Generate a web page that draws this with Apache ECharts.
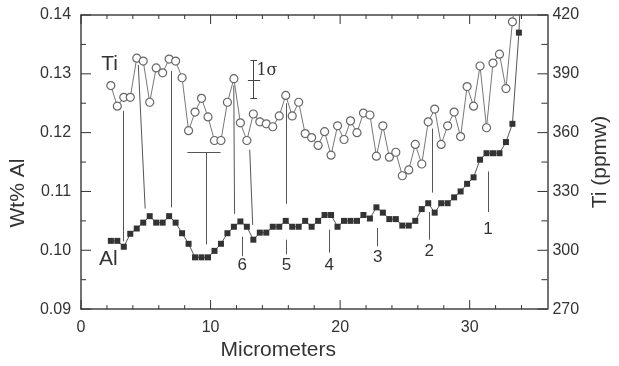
<!DOCTYPE html>
<html>
<head>
<meta charset="utf-8">
<script src="https://cdn.jsdelivr.net/npm/echarts@6/dist/echarts.min.js"></script>
<style>
    html, body { margin: 0; padding: 0; background: #fff; }
    #chart { width: 619px; height: 366px; }
</style>
</head>
<body>
<div id="chart"></div>
<script>

// profile positions (micrometers)
const distance = [
    2.3, 2.8, 3.3, 3.8, 4.3, 4.8, 5.3, 5.8, 6.3, 6.8,
    7.3, 7.8, 8.3, 8.8, 9.3, 9.8, 10.3, 10.8, 11.3, 11.8,
    12.3, 12.8, 13.3, 13.8, 14.3, 14.8, 15.3, 15.8, 16.3, 16.8,
    17.3, 17.8, 18.3, 18.8, 19.3, 19.8, 20.3, 20.8, 21.3, 21.8,
    22.3, 22.8, 23.3, 23.8, 24.3, 24.8, 25.3, 25.8, 26.3, 26.8,
    27.3, 27.8, 28.3, 28.8, 29.3, 29.8, 30.3, 30.8, 31.3, 31.8,
    32.3, 32.8, 33.3, 33.8, 34.3
];

// Ti (ppmw), right axis
const tiPpmw = [
    384, 373.5, 378, 378, 398, 396.5, 375.5, 393, 390.5, 397.5,
    396.5, 388, 361, 370.5, 377.5, 368, 356, 356, 375.5, 387.5,
    365, 356, 369.5, 365.5, 364.5, 363, 368.5, 379, 368.5, 375.5,
    359.5, 357.5, 353.5, 360.5, 348.5, 363.5, 356.5, 366, 360, 370,
    369, 348, 363.5, 347.5, 350, 338, 341, 354, 344, 365.5,
    372, 354, 363.5, 370.5, 358, 383.5, 373.5, 394, 362.5, 395.5,
    400, 382.5, 416.5, 440
];

// Al (wt%), left axis
const alWt = [
    0.1016, 0.1016, 0.1006, 0.1028, 0.1037, 0.1047, 0.1058, 0.1047, 0.1047, 0.1058,
    0.1047, 0.1029, 0.1011, 0.0988, 0.0988, 0.0988, 0.0999, 0.1011, 0.1029, 0.1040,
    0.1049, 0.1040, 0.1018, 0.1030, 0.1030, 0.1040, 0.1040, 0.1050, 0.1040, 0.1040,
    0.1050, 0.1040, 0.1050, 0.1060, 0.1060, 0.1040, 0.1050, 0.1050, 0.1050, 0.1060,
    0.1054, 0.1073, 0.1064, 0.1053, 0.1053, 0.1042, 0.1042, 0.1050, 0.1070, 0.1080,
    0.1064, 0.1080, 0.1080, 0.1090, 0.1100, 0.1113, 0.1124, 0.1154, 0.1165, 0.1165,
    0.1165, 0.1184, 0.1215, 0.1370, 0.1600
];

// tick positions
const xTicks = [0, 10, 20, 30];
const xMinorTicks = [2, 4, 6, 8, 12, 14, 16, 18, 22, 24, 26, 28, 32, 34];
const alTicks = [0.09, 0.10, 0.11, 0.12, 0.13, 0.14];
const alMinorTicks = [0.095, 0.105, 0.115, 0.125, 0.135];
const tiTicks = [270, 300, 330, 360, 390, 420];
const tiMinorTicks = [285, 315, 345, 375, 405];

// guide lines Ti -> Al  [x1, al1, x2, al2]
const guideLines = [
    [3.28, 0.1237, 3.28, 0.1015],
    [4.42, 0.1315, 4.95, 0.1071],
    [6.97, 0.1305, 6.97, 0.1073],
    [8.21, 0.1167, 10.77, 0.1167],
    [9.69, 0.1167, 9.69, 0.1010],
    [11.79, 0.1280, 11.85, 0.1062],
    [13.02, 0.1171, 13.25, 0.1043],
    [15.85, 0.1250, 15.85, 0.1079],
    [27.13, 0.1207, 27.13, 0.1098]
];

// numbered peaks
const peakNames = ['1', '2', '3', '4', '5', '6'];
const peakX = [31.41, 26.87, 22.9, 19.15, 15.85, 12.44];
const peakTickTop = [0.1134, 0.1065, 0.1038, 0.1035, 0.1018, 0.1023];
const peakTickBottom = [0.1065, 0.1018, 0.1007, 0.0996, 0.0993, 0.0990];
const peakLabelY = [0.1036, 0.0999, 0.0988, 0.0974, 0.0974, 0.0974];

// 1 sigma error bar on Ti scale
const sigmaX = 13.33;
const sigmaTi = [377.6, 386.8, 396.7];

const ink = '#333';
const X_MIN = 0, X_MAX = 36;

function segment(x1, y1, x2, y2) {
    return [{ coord: [x1, y1] }, { coord: [x2, y2] }];
}

function textPoint(name, x, y, size, family) {
    return {
        name,
        coord: [x, y],
        label: { fontSize: size, fontFamily: family || 'Liberation Sans' }
    };
}

function tickLine(x1, y1, x2, y2) {
    return { type: 'line', shape: { x1, y1, x2, y2 }, style: { stroke: ink, lineWidth: 1 } };
}

// frame ticks, placed through the axes' own scales (inward, like the original plot)
function tickSeries(yAxisIndex, data, render) {
    return {
        type: 'custom',
        xAxisIndex: 0, yAxisIndex,
        silent: true, clip: false, z: 5,
        data,
        renderItem: (params, api) => ({ type: 'group', children: render(api) })
    };
}

const xTickSeries = tickSeries(0,
    xTicks.map(v => [v, 9]).concat(xMinorTicks.map(v => [v, 4])),
    api => {
        const x = api.value(0), len = api.value(1);
        const b = api.coord([x, alTicks[0]]);
        const t = api.coord([x, alTicks[alTicks.length - 1]]);
        return [tickLine(b[0], b[1], b[0], b[1] - len), tickLine(t[0], t[1], t[0], t[1] + len)];
    });

const alTickSeries = tickSeries(0,
    alTicks.map(v => [10, v]).concat(alMinorTicks.map(v => [5, v])),
    api => {
        const len = api.value(0);
        const p = api.coord([X_MIN, api.value(1)]);
        return [tickLine(p[0], p[1], p[0] + len, p[1])];
    });

const tiTickSeries = tickSeries(1,
    tiTicks.map(v => [10, v]).concat(tiMinorTicks.map(v => [6, v])),
    api => {
        const len = api.value(0);
        const p = api.coord([X_MAX, api.value(1)]);
        return [tickLine(p[0], p[1], p[0] - len, p[1])];
    });

const axisLineStyle = { show: true, onZero: false, lineStyle: { color: '#444', width: 1.5 } };

const chart = echarts.init(document.getElementById('chart'));

const option = {
    animation: false,
    backgroundColor: '#fff',
    grid: { left: 80, right: 71, top: 15, bottom: 50 },
    xAxis: [
        {
            type: 'value', min: X_MIN, max: X_MAX, interval: 10, position: 'bottom',
            splitLine: { show: false },
            axisLine: axisLineStyle,
            axisTick: { show: false },
            axisLabel: {
                show: true, fontSize: 16, color: ink, margin: 10, fontFamily: 'Liberation Sans',
                showMaxLabel: false,
                formatter: v => xTicks.includes(v) ? String(v) : ''
            },
            name: 'Micrometers', nameLocation: 'middle', nameGap: 24,
            nameTextStyle: { fontSize: 21, color: ink, fontFamily: 'Liberation Sans', padding: [0, 72, 0, 0] }
        },
        {
            type: 'value', min: X_MIN, max: X_MAX, interval: 10, position: 'top',
            splitLine: { show: false },
            axisLine: axisLineStyle,
            axisTick: { show: false },
            axisLabel: { show: false }
        }
    ],
    yAxis: [
        {
            type: 'value', position: 'left',
            min: alTicks[0], max: alTicks[alTicks.length - 1], interval: 0.01,
            splitLine: { show: false },
            axisLine: axisLineStyle,
            axisTick: { show: false },
            axisLabel: {
                fontSize: 16, color: ink, margin: 10, fontFamily: 'Liberation Sans',
                formatter: v => v.toFixed(2)
            },
            name: 'Wt% Al', nameLocation: 'middle', nameGap: 46, nameRotate: 90,
            nameTextStyle: { fontSize: 21, color: ink, fontFamily: 'Liberation Sans', padding: [0, 62, 0, 0] }
        },
        {
            type: 'value', position: 'right',
            min: tiTicks[0], max: tiTicks[tiTicks.length - 1], interval: 30,
            splitLine: { show: false },
            axisLine: axisLineStyle,
            axisTick: { show: false },
            axisLabel: { fontSize: 16, color: ink, margin: 5, fontFamily: 'Liberation Sans' },
            name: 'Ti (ppmw)', nameLocation: 'middle', nameGap: 37, nameRotate: 90,
            nameTextStyle: { fontSize: 21, color: ink, fontFamily: 'Liberation Sans' }
        }
    ],
    series: [
        {
            name: 'Al',
            type: 'line',
            xAxisIndex: 0, yAxisIndex: 0,
            data: alWt.map((v, i) => [distance[i], v]),
            symbol: 'rect', symbolSize: 6, showAllSymbol: true,
            itemStyle: { color: '#333' },
            lineStyle: { color: '#555', width: 1 },
            clip: true,
            markLine: {
                silent: true, symbol: ['none', 'none'], label: { show: false },
                lineStyle: { color: '#555', width: 1, type: 'solid' },
                data: guideLines.map(g => segment(g[0], g[1], g[2], g[3]))
                    .concat(peakX.map((x, i) => segment(x, peakTickTop[i], x, peakTickBottom[i])))
            },
            markPoint: {
                silent: true, symbol: 'circle', symbolSize: 1,
                itemStyle: { color: 'rgba(0,0,0,0)' },
                label: { show: true, position: 'inside', color: ink, formatter: p => p.name },
                data: peakNames.map((n, i) => textPoint(n, peakX[i], peakLabelY[i], 17))
                    .concat([textPoint('Al', 2.1, 0.0985, 21)])
            }
        },
        {
            name: 'Ti',
            type: 'line',
            xAxisIndex: 0, yAxisIndex: 1,
            data: tiPpmw.map((v, i) => [distance[i], v]),
            symbol: 'circle', symbolSize: 8, showAllSymbol: true,
            itemStyle: { color: '#fff', borderColor: '#666', borderWidth: 1.2 },
            lineStyle: { color: '#777', width: 1 },
            clip: true,
            markLine: {
                silent: true, symbol: ['none', 'none'], label: { show: false },
                lineStyle: { color: '#444', width: 1, type: 'solid' },
                data: [
                    segment(sigmaX, sigmaTi[0], sigmaX, sigmaTi[2]),
                    segment(sigmaX - 0.26, sigmaTi[0], sigmaX + 0.26, sigmaTi[0]),
                    segment(sigmaX - 0.45, sigmaTi[1], sigmaX + 0.5, sigmaTi[1]),
                    segment(sigmaX - 0.26, sigmaTi[2], sigmaX + 0.26, sigmaTi[2])
                ]
            },
            markPoint: {
                silent: true, symbol: 'circle', symbolSize: 1,
                itemStyle: { color: 'rgba(0,0,0,0)' },
                label: { show: true, position: 'inside', color: ink, formatter: p => p.name },
                data: [
                    textPoint('Ti', 2.2, 395.1, 21),
                    textPoint('1σ', 14.35, 391.5, 16, 'DejaVu Serif')
                ]
            }
        },
        xTickSeries,
        alTickSeries,
        tiTickSeries
    ]
};

chart.setOption(option);

</script>
</body>
</html>
